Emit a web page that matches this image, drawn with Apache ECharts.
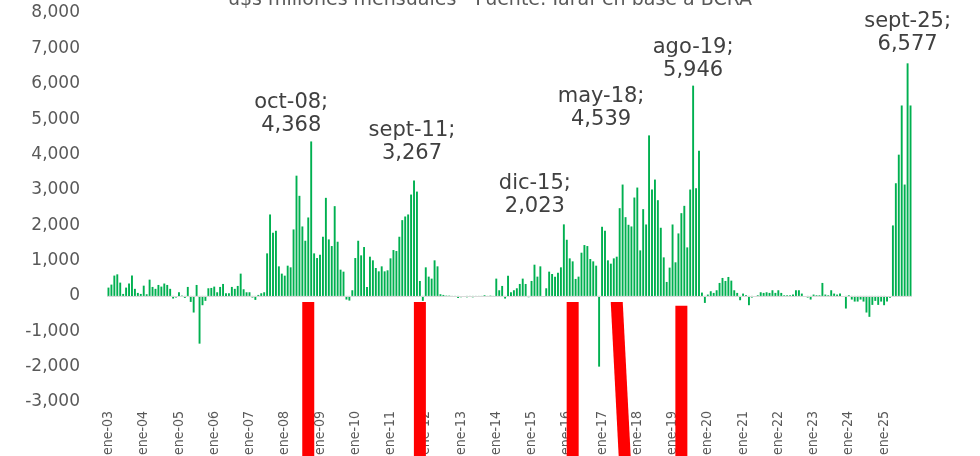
<!DOCTYPE html>
<html>
<head>
<meta charset="utf-8">
<script src="https://cdn.jsdelivr.net/npm/echarts@6/dist/echarts.min.js"></script>
<style>
  html, body { margin: 0; padding: 0; background: #fff; }
  #chart { width: 980px; height: 456px; }
</style>
</head>
<body>
<div id="chart"></div>
<script>
// nombres de meses (formato Excel en castellano)
var nombresMes = ['ene', 'feb', 'mar', 'abr', 'may', 'jun', 'jul', 'ago', 'sept', 'oct', 'nov', 'dic'];
var anioDesde = 2003, anioHasta = 2025, mesesUltimoAnio = 10; // ene-03 .. oct-25

var meses = [];
for (var a = anioDesde; a <= anioHasta; a++) {
  for (var m = 0; m < 12; m++) {
    if (a === anioHasta && m >= mesesUltimoAnio) break;
    meses.push(nombresMes[m] + '-' + String(a).slice(2));
  }
}

// u$s millones mensuales
var flujos = [
  235, 320, 575, 610, 376, 56, 235, 350, 580, 200, 85, 56,              // 2003
  290, 47, 460, 254, 200, 310, 263, 350, 310, 200, -75, -47,            // 2004
  100, 10, -56, 254, -170, -470, 310, -1350, -263, -140, 216, 225,      // 2005
  263, 103, 254, 338, 75, 75, 254, 200, 282, 630, 188, 103,             // 2006
  103, -47, -113, 28, 75, 103, 1203, 2303, 1786, 1842, 836, 630,        // 2007
  573, 855, 808, 1880, 3400, 2830, 1964, 1560, 2218, 4368, 1203, 1071,  // 2008
  1165, 1673, 2773, 1598, 1410, 2538, 1532, 742, 686, -103, -132, 160,  // 2009
  1071, 1560, 1147, 1382, 254, 1109, 1006, 790, 695, 836, 695, 724,     // 2010
  1062, 1297, 1269, 1673, 2143, 2246, 2303, 2866, 3267, 2950, 423, -140,// 2011
  808, 545, 489, 1006, 836, 47, 28, 10, 10, -10, -20, -60,              // 2012
  -40, -30, -40, -30, -40, -30, -20, -30, 20, -20, 10, -10,             // 2013
  489, 160, 282, -75, 573, 103, 160, 216, 338, 489, 338, -38,           // 2014
  423, 883, 545, 836, 0, 216, 686, 620, 545, 658, 808, 2023,            // 2015
  1588, 1062, 977, 480, 545, 1222, 1438, 1410, 1043, 977, 855, -2000,   // 2016
  1955, 1842, 1006, 912, 1062, 1109, 2481, 3149, 2227, 2011, 1964, 2782,// 2017
  3064, 1288, 2453, 2020, 4539, 3008, 3290, 2707, 1927, 1090, 395, 800, // 2018
  2020, 950, 1767, 2340, 2547, 1372, 3008, 5946, 3045, 4107, 94, -198,  // 2019
  38, 132, 85, 160, 367, 508, 423, 536, 432, 160, 85, -122,             // 2020
  66, 19, -263, -47, 0, 19, 103, 85, 103, 85, 160, 85,                  // 2021
  160, 85, 19, 19, 19, 38, 160, 160, 66, 0, -47, -103,                  // 2022
  38, 19, 19, 367, 38, 19, 160, 66, 38, 66, 0, -357,                    // 2023
  19, -103, -160, -160, -103, -160, -470, -592, -254, -141, -254, -160, // 2024
  -263, -160, -50, 1993, 3186, 3994, 5385, 3149, 6577, 5385             // 2025
];

// picos rotulados
var destacados = [
  ['oct-08', 4368], ['sept-11', 3267], ['dic-15', 2023],
  ['may-18', 4539], ['ago-19', 5946], ['sept-25', 6577]
];
// desplazamiento de cada rotulo (px)
var offsetsRotulo = [[-20, 1], [-2, -10], [-29, -1], [-48, 1], [0, 1], [0, -2]];

// marcas rojas: [mes arriba, mes abajo, valor superior]
var marcasRojas = [
  ['sept-08', 'sept-08', -170], ['nov-11', 'nov-11', -170], ['mar-16', 'mar-16', -170],
  ['jun-17', 'sept-17', -170], ['abr-19', 'abr-19', -280]
];
var FONDO_MARCA = -5000;

var ticksY = { min: -3000, max: 8000, interval: 1000 };

function miles(v) {
  return Number(v).toLocaleString('en-US');
}

var myChart = echarts.init(document.getElementById('chart'));

var option = {
  animation: false,
  title: {
    text: 'u$s millones mensuales - Fuente: Iaraf en base a BCRA',
    left: 'center',
    top: -9,
    padding: 0,
    textStyle: { fontFamily: 'DejaVu Sans', fontSize: 19, fontWeight: 'normal', color: '#595959' }
  },
  grid: { left: 107, right: 68, top: 13, bottom: 54, containLabel: false, outerBoundsMode: 'none' },
  xAxis: {
    type: 'category',
    data: meses,
    position: 'bottom',
    axisLine: { show: false, onZero: false },
    axisTick: { show: false },
    axisLabel: {
      interval: function (i) { return i % 12 === 0; },
      rotate: 90,
      margin: 9,
      color: '#595959',
      fontFamily: 'Liberation Sans Narrow, DejaVu Sans Condensed, sans-serif',
      fontSize: 14
    }
  },
  yAxis: {
    type: 'value',
    min: ticksY.min,
    max: ticksY.max,
    interval: ticksY.interval,
    axisLine: { show: false },
    axisTick: { show: false },
    splitLine: { show: false },
    axisLabel: {
      margin: 27,
      color: '#595959',
      fontFamily: 'DejaVu Sans',
      fontSize: 17,
      formatter: miles
    }
  },
  series: [
    {
      type: 'bar',
      data: flujos,
      barCategoryGap: '35%',
      itemStyle: { color: '#00B050' },
      markLine: {
        silent: true,
        symbol: 'none',
        label: { show: false },
        lineStyle: { color: '#D9D9D9', type: 'solid', width: 1 },
        data: [{ yAxis: 0 }]
      },
      markPoint: {
        symbol: 'circle',
        symbolSize: 0,
        silent: true,
        label: {
          show: true,
          position: 'top',
          color: '#404040',
          fontFamily: 'DejaVu Sans',
          fontSize: 21,
          lineHeight: 23,
          formatter: function (p) { return p.name + ';\n' + miles(p.value); }
        },
        data: destacados.map(function (d, i) {
          return { name: d[0], coord: [d[0], d[1]], value: d[1], label: { offset: offsetsRotulo[i] } };
        })
      }
    },
    {
      type: 'custom',
      silent: true,
      data: marcasRojas.map(function (d) {
        return [meses.indexOf(d[0]), meses.indexOf(d[1]), d[2]];
      }),
      encode: { x: 0, y: 2 },
      renderItem: function (params, api) {
        var arriba = api.coord([api.value(0), api.value(2)]);
        var abajo = api.coord([api.value(1), FONDO_MARCA]);
        var w = 6;
        return {
          type: 'polygon',
          shape: {
            points: [
              [arriba[0] - w, arriba[1]], [arriba[0] + w, arriba[1]],
              [abajo[0] + w, abajo[1]], [abajo[0] - w, abajo[1]]
            ]
          },
          style: { fill: '#FF0000' }
        };
      }
    }
  ]
};

myChart.setOption(option);
</script>
</body>
</html>
